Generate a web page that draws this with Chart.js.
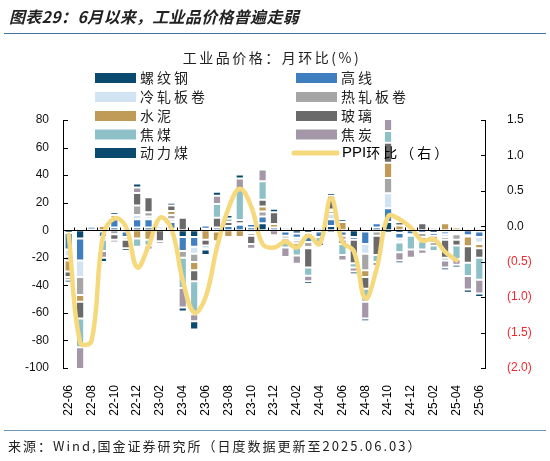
<!DOCTYPE html>
<html>
<head>
<meta charset="utf-8">
<script src="https://cdn.jsdelivr.net/npm/chart.js@4"></script>
<style>
  body { margin: 0; background: #fff; }
  #wrap { position: relative; width: 550px; height: 461px; overflow: hidden; }
  #title { position: absolute; left: 9px; top: 4px; font: italic bold 16px "Noto Sans CJK SC", sans-serif; color: #222; white-space: nowrap; letter-spacing: 0.3px; }
  #line1 { position: absolute; left: 4px; right: 4px; top: 33px; height: 0; border-top: 1.5px solid #3d74a2; }
  #line2 { position: absolute; left: 4px; right: 4px; top: 430px; height: 0; border-top: 1.5px solid #6d97b5; }
  #source { position: absolute; left: 8px; top: 436px; font: 13px "Noto Sans CJK SC", sans-serif; color: #222; white-space: nowrap; letter-spacing: 2px; }
  #chartBox { position: absolute; left: 0; top: 0; width: 550px; height: 461px; }
</style>
</head>
<body>
<div id="wrap">
  <div id="chartBox"><canvas id="myChart"></canvas></div>
  <div id="title">图表29：6月以来，工业品价格普遍走弱</div>
  <div id="line1"></div>
  <div id="line2"></div>
  <div id="source">来源：Wind,国金证券研究所（日度数据更新至2025.06.03）</div>
</div>
<script>
// Monate 22-06 bis 25-06
var months = ['22-06','22-07','22-08','22-09','22-10','22-11','22-12',
  '23-01','23-02','23-03','23-04','23-05','23-06','23-07','23-08','23-09','23-10','23-11','23-12',
  '24-01','24-02','24-03','24-04','24-05','24-06','24-07','24-08','24-09','24-10','24-11','24-12',
  '25-01','25-02','25-03','25-04','25-05','25-06'];

// Beiträge der einzelnen Produkte (%)
var rebar   = [-2,-6,0.5,-1,2,-1,2, 2,0,1,-5,-5,1,0,0,0,2,5,0, -1,-2.4,-2,-1,3,-1,-5,-1,2,6,-2,0, 0,-2,-1,-1,0,-1];
var wire    = [-12,-16,2,-4,6,-4,6, 6,1,5,-10,-7,2.5,2,3,4,2.5,5,2, -3,-3,-6.5,-4,5,-3,-2,-9,3,10,-4,-3, -2,-2,-2,-1,-3.6,-4];
var coldRoll= [-5,-12,-1,-2,1,-2,3, 2,2,2,0,-5,0,0,0,1,-2,0,0, 2,-2,0,2,4,0,0,-7,-1,10.9,-2,2, 0,2,-2,-1,-1,-4];
var hotRoll = [-3,-13,0,0,-3,0,7, 3,0,3,-5,-6,0,-1,0,0,-2,3.6,0, -2,-2,-3.6,0,2,-3,0,-12,-3,11,-1,-1, -3,0,-2,-4,0,-1];
var cement  = [-8,-5,0,3,2,0,-6, -7,0,3,0,-6,-7,-7,-5,-5,0,3.6,2.5, -2.5,-3,-1,0,1,6,0,-5,0,11,3.5,0, -3,-5,5,2,-7,-3];
var glass   = [-4,-12,0,0,-4,-6,9, 11,-8,4,9,-8,-4,7,3,2.5,-6,4.9,8.5, 0,0,-14,0,10,-3,-17,-8.5,-14,14.6,2.5,0, 5,-2,-13,-4,-12,-7];
var cokingCoal = [0,-21,0,-8,0,0,-6, -4,0,0,-22,-24,-2,10,2.5,22,0,13.4,0, -4,-6,-6,-4,0,-8,-3,-9.5,-5,8.5,-7,-10, -6,-4,-2,-10,-9.7,-16];
var coke    = [-2,-17,1,-5,-2,0,4, -3,-2,0,-14,-5,-1,6,0,8,-3.5,8.5,-3.6, -7,-6,-4,0,-2,-4,-3,-12,-3,9,-6,-6, -3,-1,-5,-4,-9.7,-10];
var thermalCoal = [-2,0,0,-3,2,-2,3, 0,0,2,-3,-6,-4,3,2.5,3,0,0,2.5, 0,0,-2,-2.5,2,2,-2,-2,0,-2,-2,0, -1,-1,-2,-2,-2.4,-2.4];

// PPI环比 (rechte Achse), bis 25-04
var ppiMom = [-0.12,-1.64,-1.62,-0.15,0.11,0.0,-0.58, -0.28,0.12,-0.03,-0.76,-1.22,-1.0,-0.3,0.25,0.53,0.28,-0.25,-0.3,
  -0.22,-0.3,-0.13,-0.25,0.4,-0.22,-0.35,-1.02,-0.6,0.14,0.1,-0.02, -0.2,-0.18,-0.36,-0.48];

var leftTicks = [-100,-80,-60,-40,-20,0,20,40,60,80];
var rightTicks = [-2,-1.5,-1,-0.5,0,0.5,1,1.5];

var seriesNames = ['螺纹钢','高线','冷轧板卷','热轧板卷','水泥','玻璃','焦煤','焦炭','动力煤'];
var seriesData = [rebar, wire, coldRoll, hotRoll, cement, glass, cokingCoal, coke, thermalCoal];
var seriesColors = ['#0b4a6f','#3f7fc0','#d2e4f3','#a6a6a6','#c09b58','#6a6a6a','#8dc1c7','#a497a7','#0b4a6f'];

var numFont = "'Liberation Sans', Arial, sans-serif";
var cjkFont = "'Noto Sans CJK SC', sans-serif";

var datasets = seriesNames.map(function(name, i) {
  return {
    type: 'bar',
    label: name,
    data: seriesData[i],
    backgroundColor: seriesColors[i],
    borderColor: 'rgba(255,255,255,0.85)',
    borderWidth: 1,
    borderSkipped: false,
    barPercentage: 0.72,
    categoryPercentage: 1,
    yAxisID: 'y',
    order: 1
  };
});
datasets.push({
  type: 'line',
  label: 'PPI环比（右）',
  data: ppiMom,
  borderColor: '#f6d97c',
  backgroundColor: '#f6d97c',
  borderWidth: 4.5,
  borderCapStyle: 'round',
  pointRadius: 0,
  tension: 0.4,
  yAxisID: 'y1',
  order: 0
});

// Achsenstriche nach innen, Nulllinie, Legende und Überschrift
var extras = {
  id: 'extras',
  afterDatasetsDraw: function(chart) {
    var ctx = chart.ctx, area = chart.chartArea;
    var y = chart.scales.y, y1 = chart.scales.y1;
    ctx.save();
    ctx.strokeStyle = '#000';
    ctx.lineWidth = 1;
    var z = Math.round(y.getPixelForValue(0)) + 0.5;
    ctx.beginPath();
    ctx.moveTo(area.left, z); ctx.lineTo(area.right, z);
    var step = (area.right - area.left) / months.length;
    for (var k = 1; k < months.length; k++) {
      var xx = Math.round(area.left + k * step) + 0.5;
      ctx.moveTo(xx, z); ctx.lineTo(xx, z - 3);
    }
    leftTicks.forEach(function(v) {
      var p = Math.round(y.getPixelForValue(v)) + 0.5;
      ctx.moveTo(area.left, p); ctx.lineTo(area.left + 5, p);
    });
    rightTicks.forEach(function(v) {
      var p = Math.round(y1.getPixelForValue(v)) + 0.5;
      ctx.moveTo(area.right, p); ctx.lineTo(area.right - 4, p);
    });
    ctx.stroke();
    ctx.restore();
  },
  afterDraw: function(chart) {
    var ctx = chart.ctx;
    ctx.save();
    ctx.fillStyle = '#222';
    ctx.font = '14px ' + cjkFont;
    ctx.textBaseline = 'middle';
    ctx.textAlign = 'center';
    ctx.letterSpacing = '2.5px';
    ctx.fillText('工业品价格：月环比(%)', 272, 58);
    ctx.textAlign = 'left';
    ctx.letterSpacing = '3px';
    var rowsY = [78, 97, 116, 134.5, 153];
    chart.data.datasets.forEach(function(ds, i) {
      var col = i % 2, row = Math.floor(i / 2);
      var sx = col === 0 ? 95 : 296;
      var yy = rowsY[row];
      if (ds.type === 'line') {
        ctx.strokeStyle = ds.borderColor;
        ctx.lineWidth = 5;
        ctx.lineCap = 'round';
        ctx.beginPath();
        ctx.moveTo(sx - 2, yy); ctx.lineTo(sx + 41, yy);
        ctx.stroke();
        ctx.fillStyle = '#000';
        ctx.letterSpacing = '0px';
        ctx.font = '15px ' + numFont;
        ctx.fillText('PPI', sx + 46, yy);
        var w = ctx.measureText('PPI').width;
        ctx.letterSpacing = '3px';
        ctx.font = '14px ' + cjkFont;
        ctx.fillText('环比（右）', sx + 46 + w, yy);
      } else {
        ctx.fillStyle = ds.backgroundColor;
        ctx.fillRect(sx, yy - 5, 41, 10);
        ctx.fillStyle = '#222';
        ctx.font = '14px ' + cjkFont;
        ctx.fillText(ds.label, sx + 45, yy);
      }
    });
    ctx.restore();
  }
};

var ctx = document.getElementById('myChart').getContext('2d');
var myChart = new Chart(ctx, {
  data: { labels: months, datasets: datasets },
  options: {
    responsive: true,
    maintainAspectRatio: false,
    animation: false,
    layout: { padding: { top: 120, left: 0, right: 0, bottom: 0 } },
    plugins: { legend: { display: false }, tooltip: { enabled: false } },
    scales: {
      x: {
        stacked: true,
        grid: { display: false },
        border: { display: false },
        afterFit: function(scale) { scale.height = 93; },
        ticks: {
          autoSkip: false,
          maxRotation: 90,
          minRotation: 90,
          padding: 9,
          color: '#000',
          font: { family: numFont, size: 12 },
          callback: function(val, idx) { return idx % 2 === 0 ? this.getLabelForValue(val) : ''; }
        }
      },
      y: {
        position: 'left',
        stacked: true,
        min: -100,
        max: 80,
        afterFit: function(scale) { scale.width = 63; },
        afterBuildTicks: function(scale) { scale.ticks = leftTicks.map(function(v) { return { value: v }; }); },
        grid: { display: false },
        border: { display: true, color: '#000', width: 1 },
        ticks: { padding: 6, color: '#111', font: { family: numFont, size: 12 } }
      },
      y1: {
        position: 'right',
        min: -2,
        max: 1.5,
        afterFit: function(scale) { scale.width = 65; },
        afterBuildTicks: function(scale) { scale.ticks = rightTicks.map(function(v) { return { value: v }; }); },
        grid: { display: false },
        border: { display: true, color: '#000', width: 1 },
        ticks: {
          padding: 14,
          font: { family: numFont, size: 12 },
          color: function(c) { return c.tick.value < 0 ? '#f0282d' : '#111'; },
          callback: function(v) { return v < 0 ? '(' + Math.abs(v).toFixed(1) + ')' : v.toFixed(1); }
        }
      }
    }
  },
  plugins: [extras]
});
</script>
</body>
</html>
